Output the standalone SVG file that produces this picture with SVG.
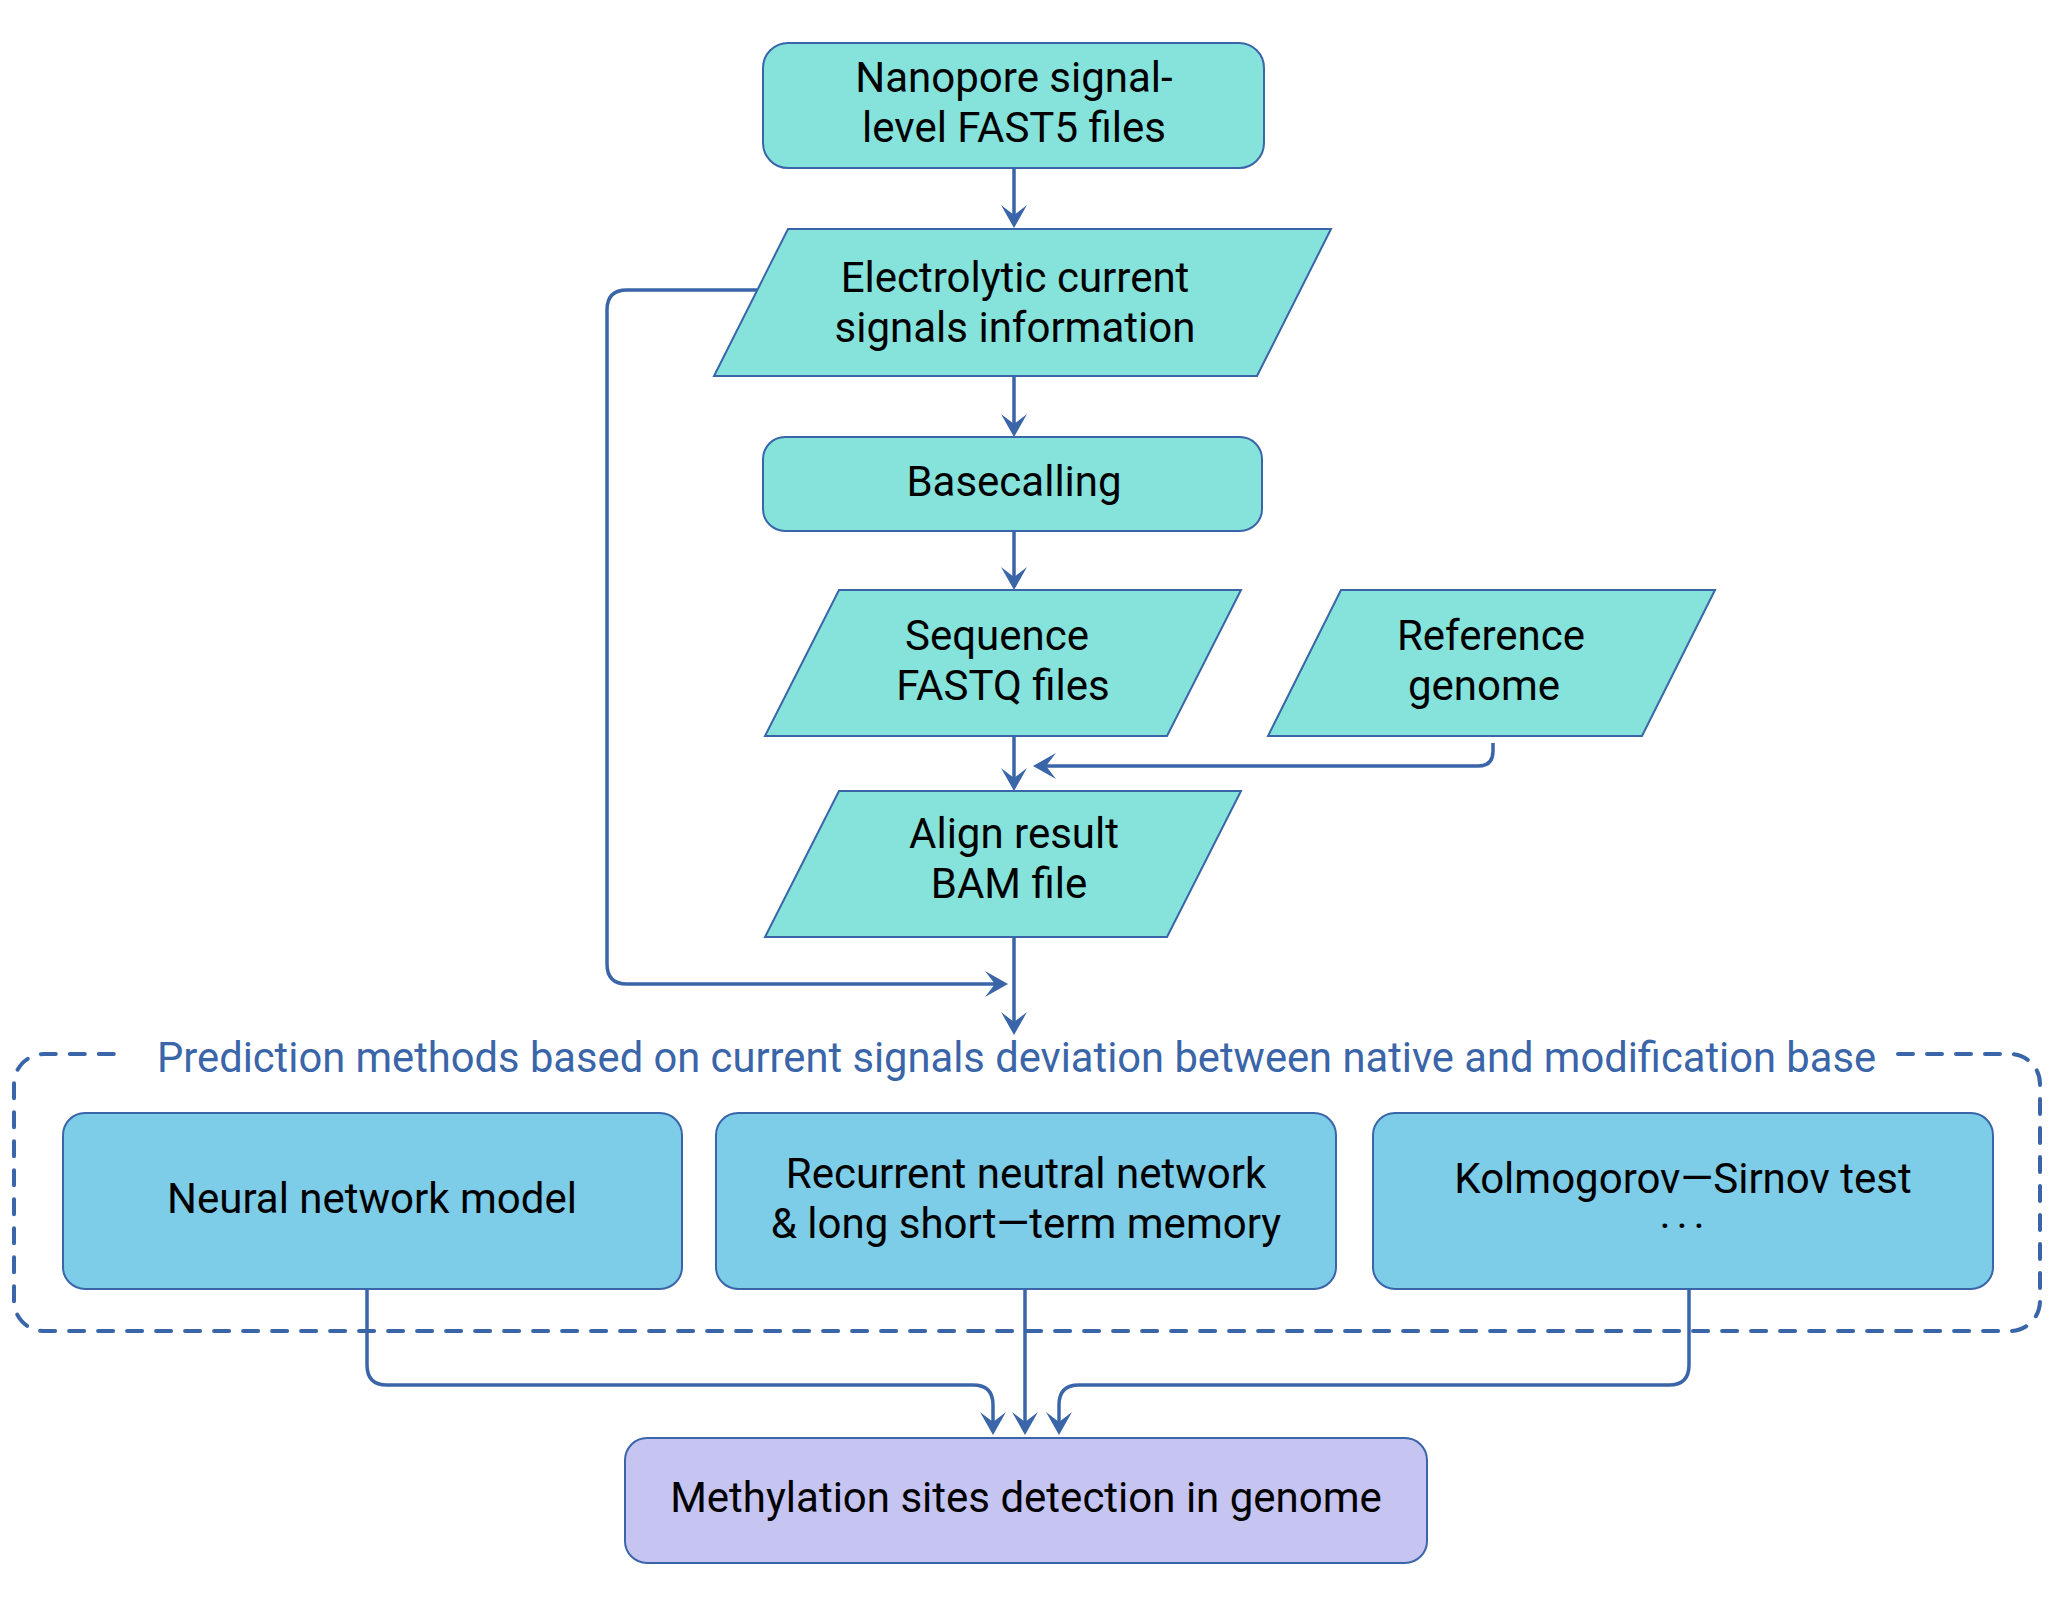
<svg xmlns="http://www.w3.org/2000/svg" width="2056" height="1609" viewBox="0 0 2056 1609">
<defs>
<style>
.node{fill:#85E3DC;stroke:#3A65A8;stroke-width:2}
.pred{fill:#7DCCE8;stroke:#3A65A8;stroke-width:2}
.res{fill:#C6C4F1;stroke:#3A65A8;stroke-width:2}
.t{font-family:Roboto,"Liberation Sans",sans-serif;font-size:42px;fill:#000;text-anchor:middle}
.title{font-family:Roboto,"Liberation Sans",sans-serif;font-size:41.7px;fill:#3A65A8}
.edge{fill:none;stroke:#3A65A8;stroke-width:3.5;marker-end:url(#arr)}
.dash{fill:none;stroke:#3A65A8;stroke-width:4;stroke-dasharray:15 14;stroke-linecap:round}
</style>
<marker id="arr" markerUnits="userSpaceOnUse" markerWidth="30" markerHeight="30" viewBox="-26 -15 30 30" refX="-12" refY="0" orient="auto" overflow="visible">
<path d="M0,0 L-23,-13 L-13,0 L-23,13 Z" fill="#3A65A8"/>
</marker>
</defs>
<rect width="2056" height="1609" fill="#fff"/>

<g id="container">
<path class="dash" d="M1898 1054 H2010 A30 30 0 0 1 2040 1084 V1301 A30 30 0 0 1 2010 1331 H44 A30 30 0 0 1 14 1301 V1084 A30 30 0 0 1 44 1054 H122"/>
<text class="title" x="157" y="1072">Prediction methods based on current signals deviation between native and modification base</text>
</g>

<g id="n1"><rect class="node" x="763" y="43" width="501" height="125" rx="25"/>
<text class="t" x="1014" y="92">Nanopore signal-</text><text class="t" x="1014" y="142">level FAST5 files</text></g>

<g id="n2"><polygon class="node" points="788,229 1331,229 1257,376 714,376"/>
<text class="t" x="1015" y="292">Electrolytic current</text><text class="t" x="1015" y="342">signals information</text></g>

<g id="n3"><rect class="node" x="763" y="437" width="499" height="94" rx="22"/>
<text class="t" x="1014" y="496">Basecalling</text></g>

<g id="n4"><polygon class="node" points="839,590 1241,590 1167,736 765,736"/>
<text class="t" x="997" y="650">Sequence</text><text class="t" x="1003" y="700">FASTQ files</text></g>

<g id="n5"><polygon class="node" points="1341,590 1715,590 1642,736 1268,736"/>
<text class="t" x="1491" y="650">Reference</text><text class="t" x="1484" y="700">genome</text></g>

<g id="n6"><polygon class="node" points="839,791 1241,791 1167,937 765,937"/>
<text class="t" x="1014" y="848">Align result</text><text class="t" x="1009" y="898">BAM file</text></g>

<g id="n7"><rect class="pred" x="63" y="1113" width="619" height="176" rx="22"/>
<text class="t" x="372" y="1213">Neural network model</text></g>

<g id="n8"><rect class="pred" x="716" y="1113" width="620" height="176" rx="22"/>
<text class="t" x="1026" y="1188">Recurrent neutral network</text><text class="t" x="1026" y="1238">&amp; long short—term memory</text></g>

<g id="n9"><rect class="pred" x="1373" y="1113" width="620" height="176" rx="22"/>
<text class="t" x="1683" y="1193">Kolmogorov—Sirnov test</text><text class="t" x="1685" y="1241" style="letter-spacing:6px">···</text></g>

<g id="n10"><rect class="res" x="625" y="1438" width="802" height="125" rx="22"/>
<text class="t" x="1026" y="1512">Methylation sites detection in genome</text></g>

<g id="connectors">
<path class="edge" d="M1014 168 V216"/>
<path class="edge" d="M1014 376 V425"/>
<path class="edge" d="M1014 531 V578"/>
<path class="edge" d="M1014 736 V779"/>
<path class="edge" d="M1493 743 V751 Q1493 766 1478 766 H1045"/>
<path class="edge" d="M757 290 H627 Q607 290 607 310 V964 Q607 984 627 984 H996"/>
<path class="edge" d="M1014 937 V1023"/>
<path class="edge" d="M367 1289 V1365 Q367 1385 387 1385 H973 Q993 1385 993 1405 V1423"/>
<path class="edge" d="M1025 1289 V1423"/>
<path class="edge" d="M1689 1289 V1365 Q1689 1385 1669 1385 H1079 Q1059 1385 1059 1405 V1423"/>
</g>
</svg>
